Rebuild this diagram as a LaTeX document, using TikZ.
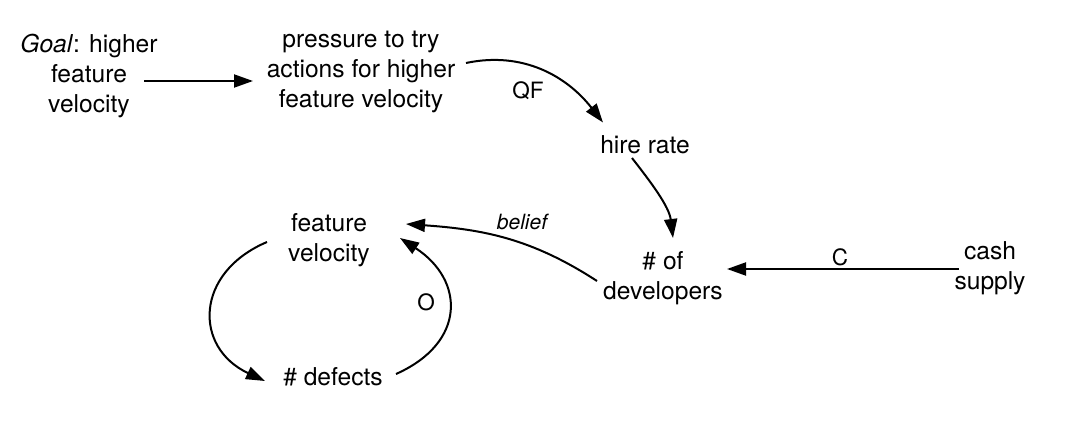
\documentclass[tikz,border=0pt]{standalone}
\usepackage{fontspec}
\setmainfont{TeX Gyre Heros}
\usetikzlibrary{arrows.meta}
\begin{document}
\begin{tikzpicture}[x=1pt,y=1pt,
  txt/.style={align=center,inner sep=0pt,font=\fontsize{24.6}{30}\selectfont},
  lbl/.style={inner sep=0pt,font=\fontsize{22.5}{26}\selectfont},
  arr/.style={line width=2pt,-{Triangle[length=19pt,width=13pt]}}]
\useasboundingbox (0,0) rectangle (1088,-436);
\node[txt] (goal) at (89,-76) {\textit{Goal}: higher\\feature\\velocity};
\node[txt] (press) at (361,-72) {pressure to try\\actions for higher\\feature velocity};
\node[txt] (hire) at (645,-144.5) {hire rate};
\node[txt] (fv) at (329,-240) {feature\\velocity};
\node[txt] (devs) at (663,-278) {\# of\\developers};
\node[txt] (cash) at (990,-268) {cash\\supply};
\node[txt] (def) at (333,-377) {\# defects};
\draw[arr] ([shift={(55,-5)}]goal.center) -- ([shift={(-108,-9)}]press.center);
\draw[arr] ([shift={(105,9)}]press.center) to[out=12,in=128] ([shift={(-42,22)}]hire.center);
\draw[arr] ([shift={(-13,-13.5)}]hire.center) to[out=-52,in=97,looseness=0.9] ([shift={(10,40)}]devs.center);
\draw[arr] ([shift={(-66,-3)}]devs.center) to[out=147,in=-4] ([shift={(77,16)}]fv.center);
\draw[arr] ([shift={(-31,-1)}]cash.center) -- ([shift={(64,9)}]devs.center);
\draw[arr] ([shift={(-62,-2)}]fv.center) to[out=203,in=155,looseness=1.45] ([shift={(-68,-4)}]def.center);
\draw[arr] ([shift={(63,3)}]def.center) to[out=24,in=-33,looseness=1.45] ([shift={(71,2)}]fv.center);
\node[lbl] (qf) at (528,-91) {QF};
\node[lbl,font=\fontsize{21}{25}\selectfont\itshape] (bel) at (522,-222) {belief};
\node[lbl] (c) at (840,-257) {C};
\node[lbl] (o) at (426,-302) {O};
\end{tikzpicture}
\end{document}
